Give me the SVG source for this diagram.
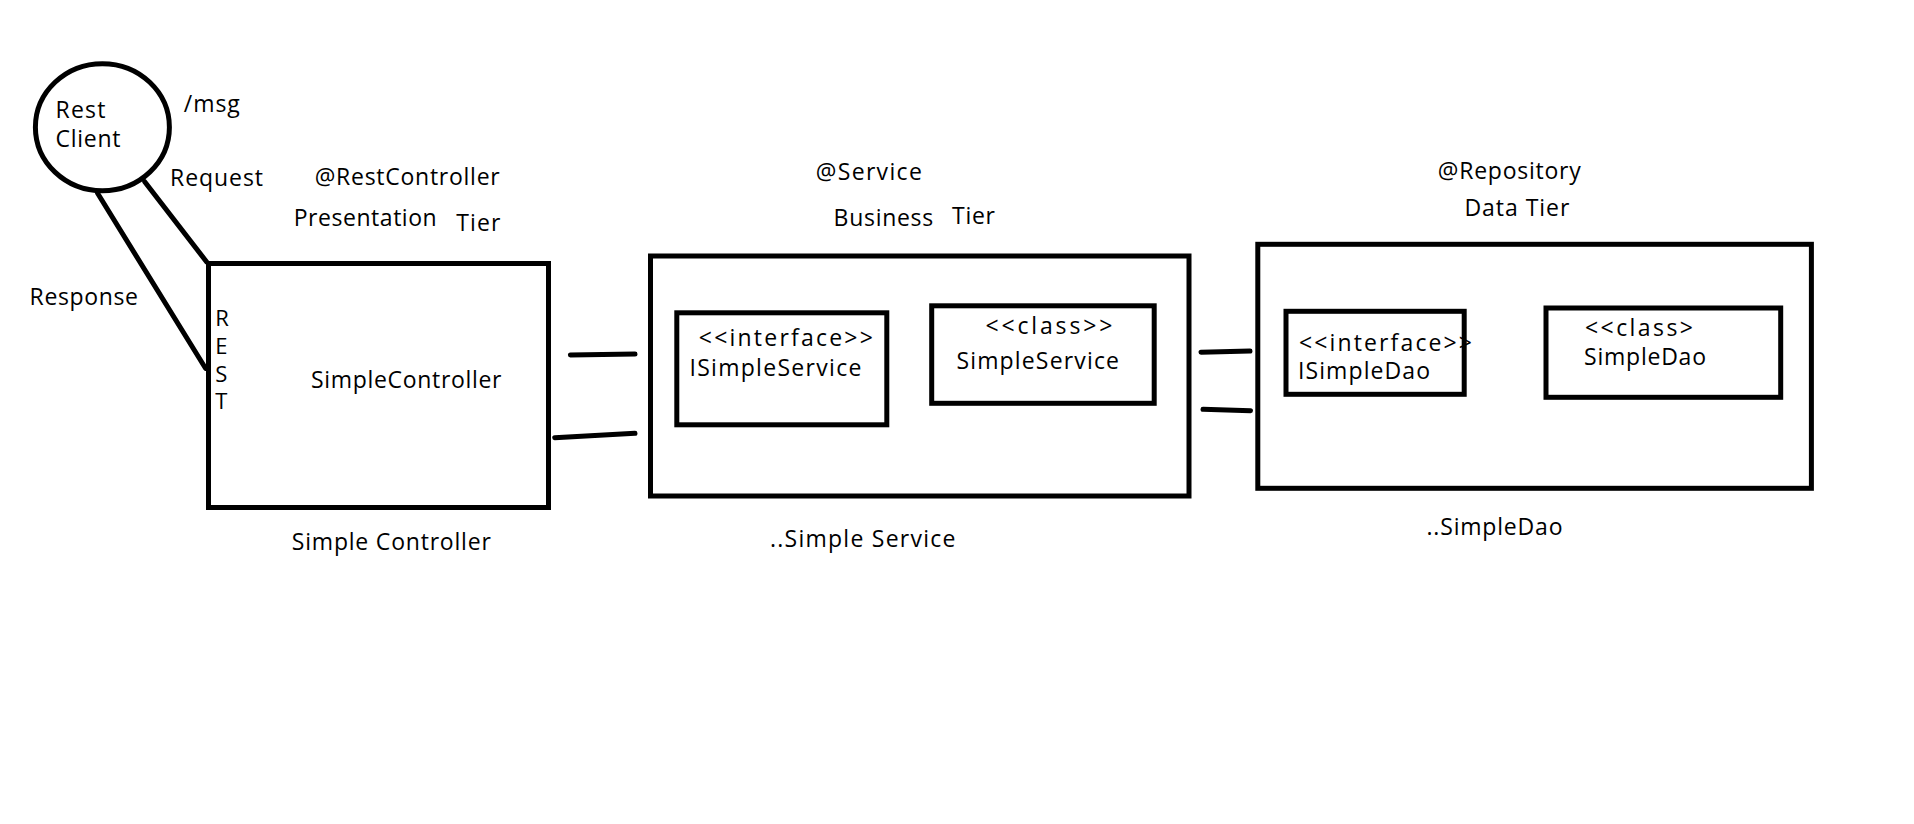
<svg xmlns="http://www.w3.org/2000/svg" width="1914" height="824" viewBox="0 0 1914 824">
<style>
text { font-family: "Open Sans", "Noto Sans", "DejaVu Sans", sans-serif; font-size: 23px; fill: #000; }
.box { fill: none; stroke: #000; stroke-width: 5; }
.conn { fill: none; stroke: #000; stroke-width: 5; stroke-linecap: round; }
.v { font-size: 22px; }
</style>
<rect x="0" y="0" width="1914" height="824" fill="#fff"/>

<g id="rest-client">
  <ellipse class="box" cx="102.4" cy="127.2" rx="67" ry="63.5"/>
  <text x="55.5" y="118.3" textLength="50">Rest</text>
  <text x="55.5" y="146.7" textLength="65">Client</text>
</g>

<g id="connectors">
  <line class="conn" x1="144.7" y1="181.7" x2="206.7" y2="262"/>
  <line class="conn" x1="97.6" y1="193.3" x2="205.5" y2="368.3"/>
  <line class="conn" x1="570.4" y1="355" x2="635" y2="354"/>
  <line class="conn" x1="554.7" y1="437.7" x2="635" y2="433.3"/>
  <line class="conn" x1="1201" y1="352.3" x2="1250" y2="351"/>
  <line class="conn" x1="1203" y1="409.3" x2="1250.5" y2="410.7"/>
</g>

<g id="labels">
  <text x="183.8" y="111.7" textLength="56">/msg</text>
  <text x="170" y="186" textLength="93">Request</text>
  <text x="29.6" y="305" textLength="108.4">Response</text>
</g>

<g id="simple-controller">
  <text x="314.7" y="185" textLength="185">@RestController</text>
  <text x="293.7" y="226" textLength="143">Presentation</text>
  <text x="456.3" y="230.7" textLength="44">Tier</text>
  <rect class="box" x="208.5" y="263.5" width="340" height="244"/>
  <text class="v" x="215.2" y="326">R</text>
  <text class="v" x="215.2" y="354">E</text>
  <text class="v" x="215.2" y="381.7">S</text>
  <text class="v" x="215.2" y="409.3">T</text>
  <text x="310.9" y="387.7" textLength="190.6">SimpleController</text>
  <text x="291.8" y="550" textLength="199">Simple Controller</text>
</g>

<g id="simple-service">
  <text x="815.8" y="180" textLength="106">@Service</text>
  <text x="833.6" y="226" textLength="99.6">Business</text>
  <text x="952" y="224.3" textLength="43">Tier</text>
  <rect class="box" x="650.5" y="256" width="538.5" height="240"/>
  <rect class="box" x="676.8" y="312.8" width="210" height="112"/>
  <text x="698.8" y="346.3" textLength="174">&lt;&lt;interface&gt;&gt;</text>
  <text x="689.4" y="375.5" textLength="172">ISimpleService</text>
  <rect class="box" x="931.7" y="305.8" width="222.5" height="97.5"/>
  <text x="985.4" y="334" textLength="127">&lt;&lt;class&gt;&gt;</text>
  <text x="956.4" y="369.3" textLength="162.6">SimpleService</text>
  <text x="770" y="546.7" textLength="185.5">..Simple Service</text>
</g>

<g id="simple-dao">
  <text x="1437.8" y="179.3" textLength="143">@Repository</text>
  <text x="1464.4" y="216" textLength="105">Data Tier</text>
  <rect class="box" x="1257.8" y="244.3" width="553.6" height="244"/>
  <rect class="box" x="1286" y="311.3" width="178.2" height="83"/>
  <text x="1299" y="350.7" textLength="173">&lt;&lt;interface&gt;&gt;</text>
  <text x="1298" y="379" textLength="132">ISimpleDao</text>
  <rect class="box" x="1546" y="308" width="234.7" height="89.3"/>
  <text x="1585" y="335.7" textLength="108">&lt;&lt;class&gt;</text>
  <text x="1584" y="365" textLength="122">SimpleDao</text>
  <text x="1426.5" y="535" textLength="136">..SimpleDao</text>
</g>
</svg>
